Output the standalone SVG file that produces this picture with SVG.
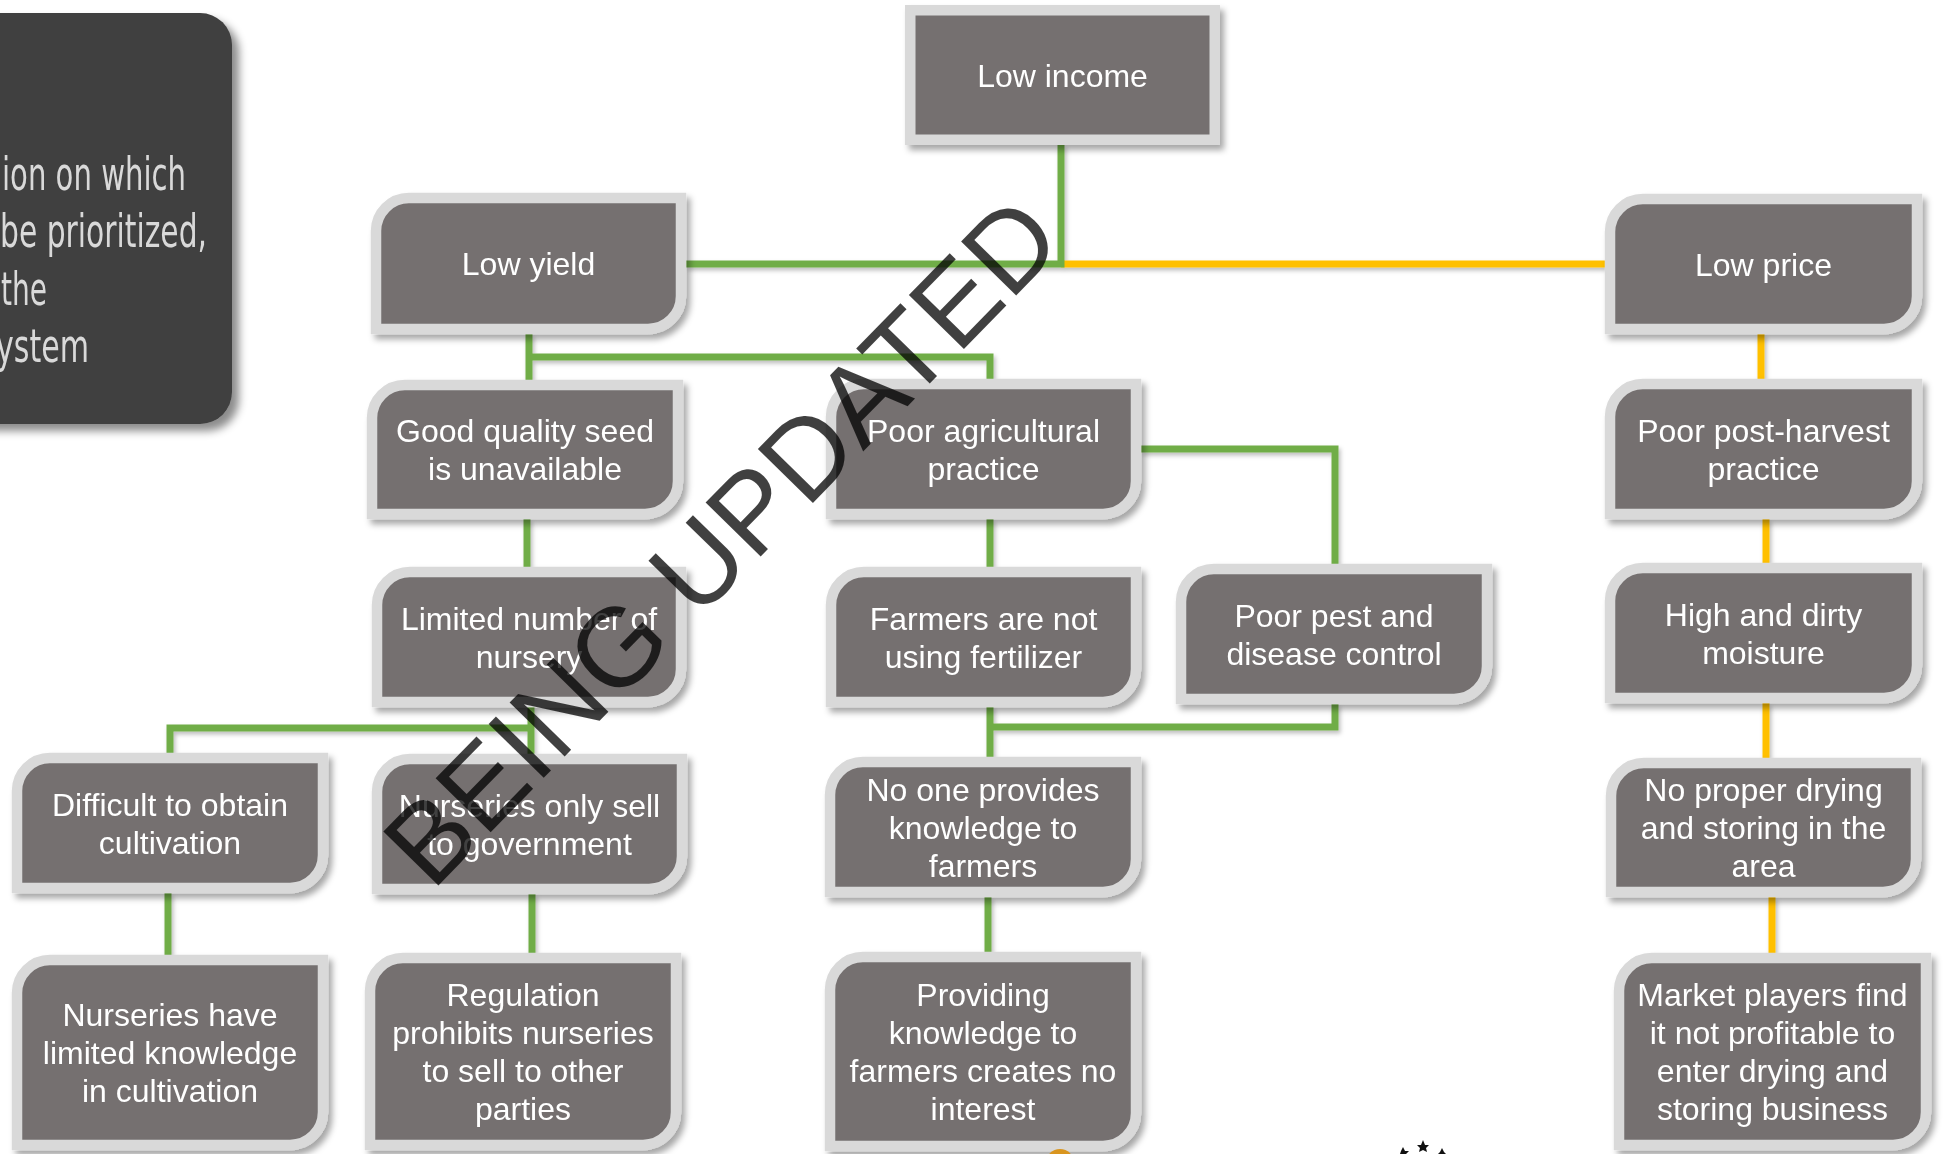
<svg xmlns="http://www.w3.org/2000/svg" width="1943" height="1154" viewBox="0 0 1943 1154">
<defs>
<filter id="sh" x="-10%" y="-10%" width="125%" height="130%">
<feDropShadow dx="4" dy="5" stdDeviation="3" flood-color="#000" flood-opacity="0.35"/>
</filter>
<filter id="shp" x="-10%" y="-10%" width="130%" height="130%">
<feDropShadow dx="7" dy="7" stdDeviation="4" flood-color="#000" flood-opacity="0.45"/>
</filter>
<filter id="shl" x="-10%" y="-10%" width="130%" height="130%">
<feDropShadow dx="2" dy="3" stdDeviation="2" flood-color="#000" flood-opacity="0.25"/>
</filter>
<style>
.box{fill:#757070;stroke:#d9d9d9;stroke-width:10.5;stroke-linejoin:miter}
.node{filter:url(#sh)}
.t{font-family:"Liberation Sans",Arial,sans-serif;font-size:32px;fill:#ffffff;text-anchor:middle}
.g{fill:none;stroke:#70ad47;stroke-width:7;stroke-linecap:butt;stroke-linejoin:miter}
.o{fill:none;stroke:#ffc000;stroke-width:7;stroke-linecap:butt}
.pt{font-family:"DejaVu Sans Condensed","DejaVu Sans",sans-serif;font-size:47px;fill:#d9d9d9}
.wm{font-family:"Liberation Sans",Arial,sans-serif;font-size:112px;fill:#000;fill-opacity:0.75}
</style>
</defs>
<rect width="1943" height="1154" fill="#ffffff"/>

<g id="panel" filter="url(#shp)">
<path d="M-40,13 H200 A32,32 0 0 1 232,45 V392 A32,32 0 0 1 200,424 H-40 Z" fill="#404040"/>
<text class="pt" x="2" y="190" textLength="184" lengthAdjust="spacingAndGlyphs">ion on which</text>
<text class="pt" x="0" y="247" textLength="207" lengthAdjust="spacingAndGlyphs">be prioritized,</text>
<text class="pt" x="1" y="305" textLength="46" lengthAdjust="spacingAndGlyphs">the</text>
<text class="pt" x="-4" y="362" textLength="93" lengthAdjust="spacingAndGlyphs">ystem</text>
</g>

<g id="connectors" filter="url(#shl)">
<path class="o" d="M1061,264 H1605"/>
<path class="g" d="M1061,145 V264 H686"/>
<path class="g" d="M529,334 V380 M529,357 H990 V379"/>
<path class="g" d="M527,519 V567"/>
<path class="g" d="M1141,449 H1335 V564"/>
<path class="g" d="M990,519 V567"/>
<path class="g" d="M990,706 V757 M990,727 H1335 V704"/>
<path class="g" d="M531,706 V754 M531,728 H170 V753"/>
<path class="g" d="M168,893 V955"/>
<path class="g" d="M532,894 V953"/>
<path class="g" d="M988,897 V952"/>
<path class="o" d="M1761,334 V379"/>
<path class="o" d="M1766,519 V563"/>
<path class="o" d="M1766,703 V758"/>
<path class="o" d="M1772,897 V953"/>
</g>

<g id="n-low-income" class="node">
<rect class="box" x="910.25" y="10.25" width="304.5" height="129.5"/>
<text class="t" x="1062.5" y="86.5">Low income</text>
</g>

<g id="n-low-yield" class="node">
<path class="box" d="M376,231 A33,33 0 0 1 409,198 H681 V296 A33,33 0 0 1 648,329 H376 Z"/>
<text class="t" x="528.5" y="275">Low yield</text>
</g>

<g id="n-low-price" class="node">
<path class="box" d="M1610,232 A33,33 0 0 1 1643,199 H1917 V296 A33,33 0 0 1 1884,329 H1610 Z"/>
<text class="t" x="1763.5" y="275.5">Low price</text>
</g>

<g id="n-good-seed" class="node">
<path class="box" d="M372,418 A33,33 0 0 1 405,385 H678 V481 A33,33 0 0 1 645,514 H372 Z"/>
<text class="t" x="525" y="442">Good quality seed</text>
<text class="t" x="525" y="480">is unavailable</text>
</g>

<g id="n-poor-agri" class="node">
<path class="box" d="M831,417 A33,33 0 0 1 864,384 H1136 V481 A33,33 0 0 1 1103,514 H831 Z"/>
<text class="t" x="983.5" y="441.5">Poor agricultural</text>
<text class="t" x="983.5" y="479.5">practice</text>
</g>

<g id="n-post-harvest" class="node">
<path class="box" d="M1610,417 A33,33 0 0 1 1643,384 H1917 V481 A33,33 0 0 1 1884,514 H1610 Z"/>
<text class="t" x="1763.5" y="441.5">Poor post-harvest</text>
<text class="t" x="1763.5" y="479.5">practice</text>
</g>

<g id="n-limited-nursery" class="node">
<path class="box" d="M377,605 A33,33 0 0 1 410,572 H681 V669 A33,33 0 0 1 648,702 H377 Z"/>
<text class="t" x="529" y="629.5">Limited number of</text>
<text class="t" x="529" y="667.5">nursery</text>
</g>

<g id="n-fertilizer" class="node">
<path class="box" d="M831,605 A33,33 0 0 1 864,572 H1136 V669 A33,33 0 0 1 1103,702 H831 Z"/>
<text class="t" x="983.5" y="629.5">Farmers are not</text>
<text class="t" x="983.5" y="667.5">using fertilizer</text>
</g>

<g id="n-pest" class="node">
<path class="box" d="M1181,602 A33,33 0 0 1 1214,569 H1487 V666 A33,33 0 0 1 1454,699 H1181 Z"/>
<text class="t" x="1334" y="626.5">Poor pest and</text>
<text class="t" x="1334" y="664.5">disease control</text>
</g>

<g id="n-moisture" class="node">
<path class="box" d="M1610,601 A33,33 0 0 1 1643,568 H1917 V665 A33,33 0 0 1 1884,698 H1610 Z"/>
<text class="t" x="1763.5" y="625.5">High and dirty</text>
<text class="t" x="1763.5" y="663.5">moisture</text>
</g>

<g id="n-difficult" class="node">
<path class="box" d="M17,791 A33,33 0 0 1 50,758 H323 V855 A33,33 0 0 1 290,888 H17 Z"/>
<text class="t" x="170" y="815.5">Difficult to obtain</text>
<text class="t" x="170" y="853.5">cultivation</text>
</g>

<g id="n-sell-gov" class="node">
<path class="box" d="M377,792 A33,33 0 0 1 410,759 H682 V856 A33,33 0 0 1 649,889 H377 Z"/>
<text class="t" x="529.5" y="816.5">Nurseries only sell</text>
<text class="t" x="529.5" y="854.5">to government</text>
</g>

<g id="n-no-knowledge" class="node">
<path class="box" d="M830,795 A33,33 0 0 1 863,762 H1136 V859 A33,33 0 0 1 1103,892 H830 Z"/>
<text class="t" x="983" y="800.5">No one provides</text>
<text class="t" x="983" y="838.5">knowledge to</text>
<text class="t" x="983" y="876.5">farmers</text>
</g>

<g id="n-drying" class="node">
<path class="box" d="M1611,796 A33,33 0 0 1 1644,763 H1916 V859 A33,33 0 0 1 1883,892 H1611 Z"/>
<text class="t" x="1763.5" y="801">No proper drying</text>
<text class="t" x="1763.5" y="839">and storing in the</text>
<text class="t" x="1763.5" y="877">area</text>
</g>

<g id="n-limited-knowledge" class="node">
<path class="box" d="M17,993 A33,33 0 0 1 50,960 H323 V1112 A33,33 0 0 1 290,1145 H17 Z"/>
<text class="t" x="170" y="1026">Nurseries have</text>
<text class="t" x="170" y="1064">limited knowledge</text>
<text class="t" x="170" y="1102">in cultivation</text>
</g>

<g id="n-regulation" class="node">
<path class="box" d="M370,991 A33,33 0 0 1 403,958 H676 V1112 A33,33 0 0 1 643,1145 H370 Z"/>
<text class="t" x="523" y="1006">Regulation</text>
<text class="t" x="523" y="1044">prohibits nurseries</text>
<text class="t" x="523" y="1082">to sell to other</text>
<text class="t" x="523" y="1120">parties</text>
</g>

<g id="n-no-interest" class="node">
<path class="box" d="M830,990 A33,33 0 0 1 863,957 H1136 V1113 A33,33 0 0 1 1103,1146 H830 Z"/>
<text class="t" x="983" y="1006">Providing</text>
<text class="t" x="983" y="1044">knowledge to</text>
<text class="t" x="983" y="1082">farmers creates no</text>
<text class="t" x="983" y="1120">interest</text>
</g>

<g id="n-market" class="node">
<path class="box" d="M1619,991 A33,33 0 0 1 1652,958 H1926 V1112 A33,33 0 0 1 1893,1145 H1619 Z"/>
<text class="t" x="1772.5" y="1006">Market players find</text>
<text class="t" x="1772.5" y="1044">it not profitable to</text>
<text class="t" x="1772.5" y="1082">enter drying and</text>
<text class="t" x="1772.5" y="1120">storing business</text>
</g>

<g id="decor">
<circle cx="1060" cy="1163" r="14" fill="#d9951e"/>
<polygon points="1403,1147 1405,1151 1409,1151 1406,1154 1400,1154 1401,1151" fill="#111"/>
<polygon points="1423,1140 1425,1145 1429,1145 1426,1148 1427,1152 1423,1150 1419,1152 1420,1148 1417,1145 1421,1145" fill="#111"/>
<polygon points="1442,1148 1444,1152 1446,1154 1438,1154 1440,1152" fill="#111"/>
</g>

<g id="watermark">
<text class="wm" transform="translate(432,892) rotate(-45.6)">BEING UPDATED</text>
</g>
</svg>
